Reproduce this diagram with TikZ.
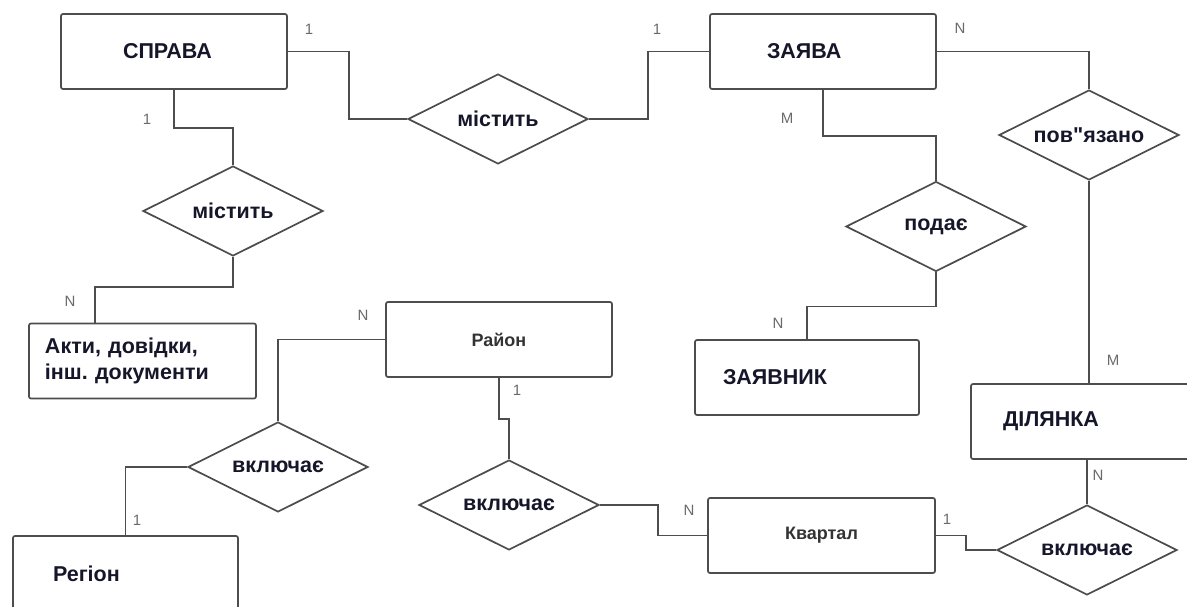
\documentclass[tikz,border=0pt]{standalone}
\usepackage{fontspec}
\setmainfont{Liberation Sans}
\usetikzlibrary{positioning, shapes.geometric}
\definecolor{linegray}{HTML}{4D4D4D}
\definecolor{cardgray}{HTML}{6A6A6A}
\definecolor{inkblue}{HTML}{16162A}

\begin{document}
\begin{tikzpicture}[x=1pt, y=-1pt]
    \tikzstyle{every node}=[font=\fontsize{21.5}{26}\selectfont\bfseries, text=inkblue]
    \tikzstyle{entity} = [rectangle, draw=linegray, line width=1.7pt,
    rounded corners=2pt, minimum height=75pt, align=left]
    \tikzstyle{relation} = [diamond, draw=linegray, line width=1.7pt,
    aspect=2, minimum width=180pt, minimum height=90pt, inner sep=0pt]
    \tikzstyle{link} = [draw=linegray, line width=1.7pt]
    \tikzstyle{card} = [font=\fontsize{15}{17}\selectfont, text=cardgray]
    \tikzstyle{small} = [font=\fontsize{18}{21}\selectfont\bfseries, text=black!80]

    \useasboundingbox (0,0) rectangle (1187,607);
    \clip (0,0) rectangle (1187,607);

    % entities
    \node[entity, inner xsep=62pt, text width=102pt] (sprava) at (174,51.5) {СПРАВА};
    \node[entity, inner xsep=57pt, text width=112pt] (zayava) at (823,51.5) {ЗАЯВА};
    \node[entity, inner xsep=16pt, text width=195pt] (akty) at (142.5,361) {Акти, довідки,\\інш.\ документи};
    \node[entity, inner xsep=40pt, text width=145pt] (region) at (125.5,573.5) {Регіон};
    \node[entity, small, align=center, inner xsep=10pt, text width=206pt] (rayon) at (499,339.5) {Район};
    \node[entity, inner xsep=28pt, text width=168pt] (zayavnyk) at (807,377.5) {ЗАЯВНИК};
    \node[entity, inner xsep=32pt, text width=162pt] (dilyanka) at (1084,421.5) {ДІЛЯНКА};
    \node[entity, small, align=center, inner xsep=10pt, text width=207pt] (kvartal) at (821.5,535.5) {Квартал};

    % relations
    \node[relation] (r1) at (498,119) {містить};
    \node[relation] (r2) at (233,211) {містить};
    \node[relation] (r3) at (1089,135) {пов\textquotedbl язано};
    \node[relation] (r4) at (936,226.5) {подає};
    \node[relation] (r5) at (278,467) {включає};
    \node[relation] (r6) at (509,505) {включає};
    \node[relation] (r7) at (1087,550) {включає};

    \draw[link] (sprava.east) -- ++(61,0) |- (r1.west);
    \draw[link] (zayava.west) -- ++(-61,0) |- (r1.east);
    \draw[link] (sprava.south) -- ++(0,38) -| (r2.north);
    \draw[link] (r2.south) -- ++(0,30) -| ([xshift=67pt]akty.north west);
    \draw[link] (zayava.south) -- ++(0,46) -| (r4.north);
    \draw[link] (r4.south) -- ++(0,34) -| (zayavnyk.north);
    \draw[link] (zayava.east) -| (r3.north);
    \draw[link] (r3.south) -- (r3.south |- dilyanka.north);
    \draw[link] (r7.north) -- (r7.north |- dilyanka.south);
    \draw[link] (kvartal.east) -- ++(30,0) |- (r7.west);
    \draw[link] (r6.east) -- ++(58,0) |- (kvartal.west);
    \draw[link] (rayon.south) -- ++(0,41) -| (r6.north);
    \draw[link] (r5.north) |- (rayon.west);
    \draw[link] (r5.west) -| (region.north);

    % cardinalities
    \node[card] (k1) at (309,29) {1};
    \node[card] (k2) at (657,29) {1};
    \node[card] (k3) at (960,28) {N};
    \node[card] (k4) at (787,118) {M};
    \node[card] (k5) at (147,119) {1};
    \node[card] (k6) at (70,301) {N};
    \node[card] (k7) at (363,315) {N};
    \node[card] (k8) at (778,323) {N};
    \node[card] (k9) at (1113,360) {M};
    \node[card] (k10) at (517,390) {1};
    \node[card] (k11) at (137,520) {1};
    \node[card] (k12) at (689,510) {N};
    \node[card] (k13) at (947,519) {1};
    \node[card] (k14) at (1098,475) {N};
\end{tikzpicture}
\end{document}
